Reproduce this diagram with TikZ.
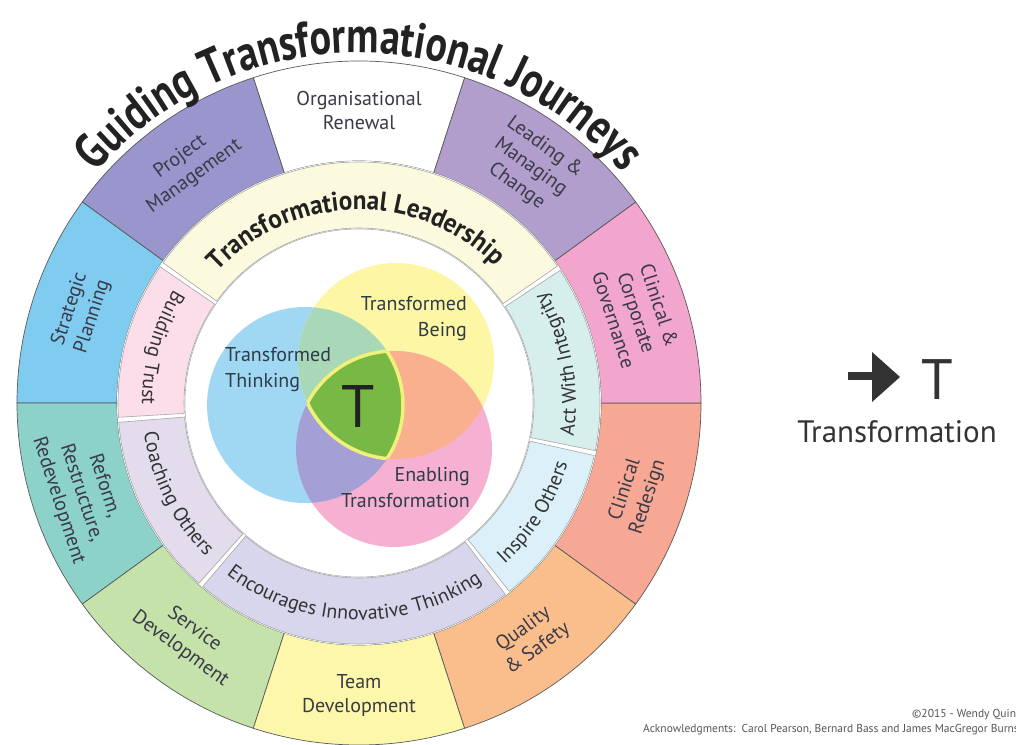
\documentclass[tikz,border=0pt]{standalone}
\usepackage{fontspec}
\setmainfont{PT Sans}
\newfontfamily\titlefam[FakeStretch=0.8]{PT Sans}
\newfontfamily\tlfam[FakeStretch=0.93]{PT Sans}
\usetikzlibrary{decorations.text}
\definecolor{cOR}{HTML}{FFFFFF}
\definecolor{cPM}{HTML}{9896CC}
\definecolor{cSP}{HTML}{80CCF0}
\definecolor{cRF}{HTML}{8CD2C8}
\definecolor{cSD}{HTML}{C4E2AA}
\definecolor{cTD}{HTML}{FCF7AA}
\definecolor{cQS}{HTML}{FABE8C}
\definecolor{cCR}{HTML}{F6A894}
\definecolor{cCC}{HTML}{F2A6CE}
\definecolor{cLM}{HTML}{B29ECC}
\definecolor{iTL}{HTML}{FCFADE}
\definecolor{iBT}{HTML}{FCDEEA}
\definecolor{iCO}{HTML}{E2DCEC}
\definecolor{iEI}{HTML}{D8D6EC}
\definecolor{iIO}{HTML}{DCF0FA}
\definecolor{iAW}{HTML}{D6EEEC}
\definecolor{vB}{HTML}{A0D8F4}
\definecolor{vY}{HTML}{FDF6A5}
\definecolor{vP}{HTML}{F5B0D2}
\definecolor{vBY}{HTML}{A8D8B8}
\definecolor{vYP}{HTML}{F8B08E}
\definecolor{vBP}{HTML}{A4A0D6}
\definecolor{vT}{HTML}{78B844}
\definecolor{vTB}{HTML}{F0F07A}
\definecolor{titlecol}{HTML}{222222}
\definecolor{labcol}{HTML}{3A3A48}
\definecolor{ilabcol}{HTML}{333333}
\definecolor{vlabcol}{HTML}{2E3B48}
\definecolor{legcol}{HTML}{333333}
\definecolor{copycol}{HTML}{555555}
\newcommand\titlestyle{\titlefam\bfseries\fontsize{50}{50}\selectfont}
\newcommand\tlstyle{\tlfam\bfseries\fontsize{27}{27}\selectfont}
\newcommand\ilabstyle{\fontsize{20}{20}\selectfont}
\newcommand\ilab[3]{%
  \path[decorate, decoration={text along path, text align=center, text color=ilabcol, text={|\ilabstyle|#2}}]
    (#1-#3:217pt) arc[start angle=#1-#3, end angle=#1+#3, radius=217pt];}
\begin{document}
\begin{tikzpicture}[x=1pt,y=1pt,
  seg/.style={draw=black!65, line width=0.7pt},
  iseg/.style={draw=black!35, line width=0.6pt},
  olab/.style={align=center, text=labcol, font=\fontsize{20}{24}\selectfont, inner sep=0pt},
  vlab/.style={text=vlabcol, font=\fontsize{20}{26}\selectfont, inner sep=0pt},
  vcirc/.style={radius=98pt}]
\useasboundingbox (0,0) rectangle (1016,744);
\clip (0,0) rectangle (1016,744);
\fill[white] (0,0) rectangle (1016,744);
\begin{scope}[shift={(359,341)}]
  % outer ring
  \foreach \a/\c in {72/cOR,108/cPM,144/cSP,180/cRF,216/cSD,252/cTD,288/cQS,324/cCR,0/cCC,36/cLM}{
    \filldraw[seg, fill=\c] (\a:342pt) arc[start angle=\a, end angle=\a+36, radius=342pt]
      -- (\a+36:242pt) arc[start angle=\a+36, end angle=\a, radius=242pt] -- cycle;
  }
  % inner ring
  \fill[white] (0,0) circle[radius=242pt];
  \foreach \s/\e/\c in {34/145/iTL,145/184/iBT,184/229/iCO,229/308/iEI,308/348/iIO,348/394/iAW}{
    \filldraw[iseg, fill=\c] (\s+0.6:241pt) arc[start angle=\s+0.6, end angle=\e-0.6, radius=241pt]
      -- (\e-0.6:175pt) arc[start angle=\e-0.6, end angle=\s+0.6, radius=175pt] -- cycle;
  }
  \filldraw[white, draw=black!30, line width=0.6pt] (0,0) circle[radius=174pt];
  % title and ring texts
  \path[decorate, decoration={text along path, text align=center, text color=titlecol,
     text={|\titlestyle|Guiding Transformational Journeys}}]
     (175:350pt) arc[start angle=175, end angle=5, radius=350pt];
  \path[decorate, decoration={text along path, text align=center, text color=titlecol,
     text={|\tlstyle|Transformational Leadership}}]
     (160:193pt) arc[start angle=160, end angle=22, radius=193pt];
  \ilab{164.5}{Building Trust}{40}
  \ilab{206.5}{Coaching Others}{40}
  \ilab{268.5}{Encourages Innovative Thinking}{60}
  \ilab{328}{Inspire Others}{40}
  \ilab{371}{Act With Integrity}{40}
  % outer labels
  \node[olab] (lOR) at (90:292pt) {Organisational\\Renewal};
  \node[olab, rotate=36] (lPM) at (126:292pt) {Project\\Management};
  \node[olab, rotate=72] (lSP) at (162:292pt) {Strategic\\Planning};
  \node[olab, rotate=-72] (lRF) at (198:292pt) {Reform,\\Restructure,\\Redevelopment};
  \node[olab, rotate=-36] (lSD) at (234:292pt) {Service\\Development};
  \node[olab] (lTD) at (270:292pt) {Team\\Development};
  \node[olab, rotate=36] (lQS) at (306:292pt) {Quality\\\& Safety};
  \node[olab, rotate=72] (lCR) at (342:292pt) {Clinical\\Redesign};
  \node[olab, rotate=-72] (lCC) at (18:292pt) {Clinical \&\\Corporate\\Governance};
  \node[olab, rotate=-36] (lLM) at (54:292pt) {Leading \&\\Managing\\Change};
\end{scope}
% Venn diagram
\coordinate (vb) at (305,339);
\coordinate (vy) at (396,383);
\coordinate (vp) at (394,295);
\fill[vB] (vb) circle[vcirc];
\fill[vY] (vy) circle[vcirc];
\fill[vP] (vp) circle[vcirc];
\begin{scope}\clip (vb) circle[vcirc]; \fill[vBY] (vy) circle[vcirc]; \end{scope}
\begin{scope}\clip (vy) circle[vcirc]; \fill[vYP] (vp) circle[vcirc]; \end{scope}
\begin{scope}\clip (vb) circle[vcirc]; \fill[vBP] (vp) circle[vcirc]; \end{scope}
\begin{scope}\clip (vb) circle[vcirc]; \clip (vy) circle[vcirc]; \fill[vT] (vp) circle[vcirc]; \end{scope}
\begin{scope}\clip (vb) circle[vcirc]; \clip (vy) circle[vcirc]; \draw[vTB, line width=3.5pt] (vp) circle[vcirc]; \end{scope}
\begin{scope}\clip (vb) circle[vcirc]; \clip (vp) circle[vcirc]; \draw[vTB, line width=3.5pt] (vy) circle[vcirc]; \end{scope}
\begin{scope}\clip (vy) circle[vcirc]; \clip (vp) circle[vcirc]; \draw[vTB, line width=3.5pt] (vb) circle[vcirc]; \end{scope}
\node[vlab, anchor=west, align=left] (tt) at (225,374) {Transformed\\Thinking};
\node[vlab, anchor=east, align=right] (tb) at (467,425) {Transformed\\Being};
\node[vlab, anchor=east, align=right] (et) at (470,256) {Enabling\\Transformation};
\node[text=titlecol, font=\fontsize{60}{60}\selectfont, inner sep=0pt] (bigT) at (358,337) {T};
% legend
\fill[legcol] (848,364) rectangle (874,372);
\fill[legcol] (872,392) -- (900,367) -- (872,342) -- cycle;
\node[text=legcol, font=\fontsize{57}{57}\selectfont, inner sep=0pt] (legT) at (937,364) {T};
\node[text=legcol, font=\fontsize{31}{31}\selectfont, inner sep=0pt] (legTx) at (897,312) {Transformation};
\node[text=copycol, font=\fontsize{11.5}{12}\selectfont, anchor=west, inner sep=0pt] (copy) at (912,29) {©2015 - Wendy Quinn};
\node[text=copycol, font=\fontsize{11.5}{12}\selectfont, anchor=west, inner sep=0pt] (ack) at (643,14) {Acknowledgments:\ \ Carol Pearson, Bernard Bass and James MacGregor Burns};
\end{tikzpicture}
\end{document}
